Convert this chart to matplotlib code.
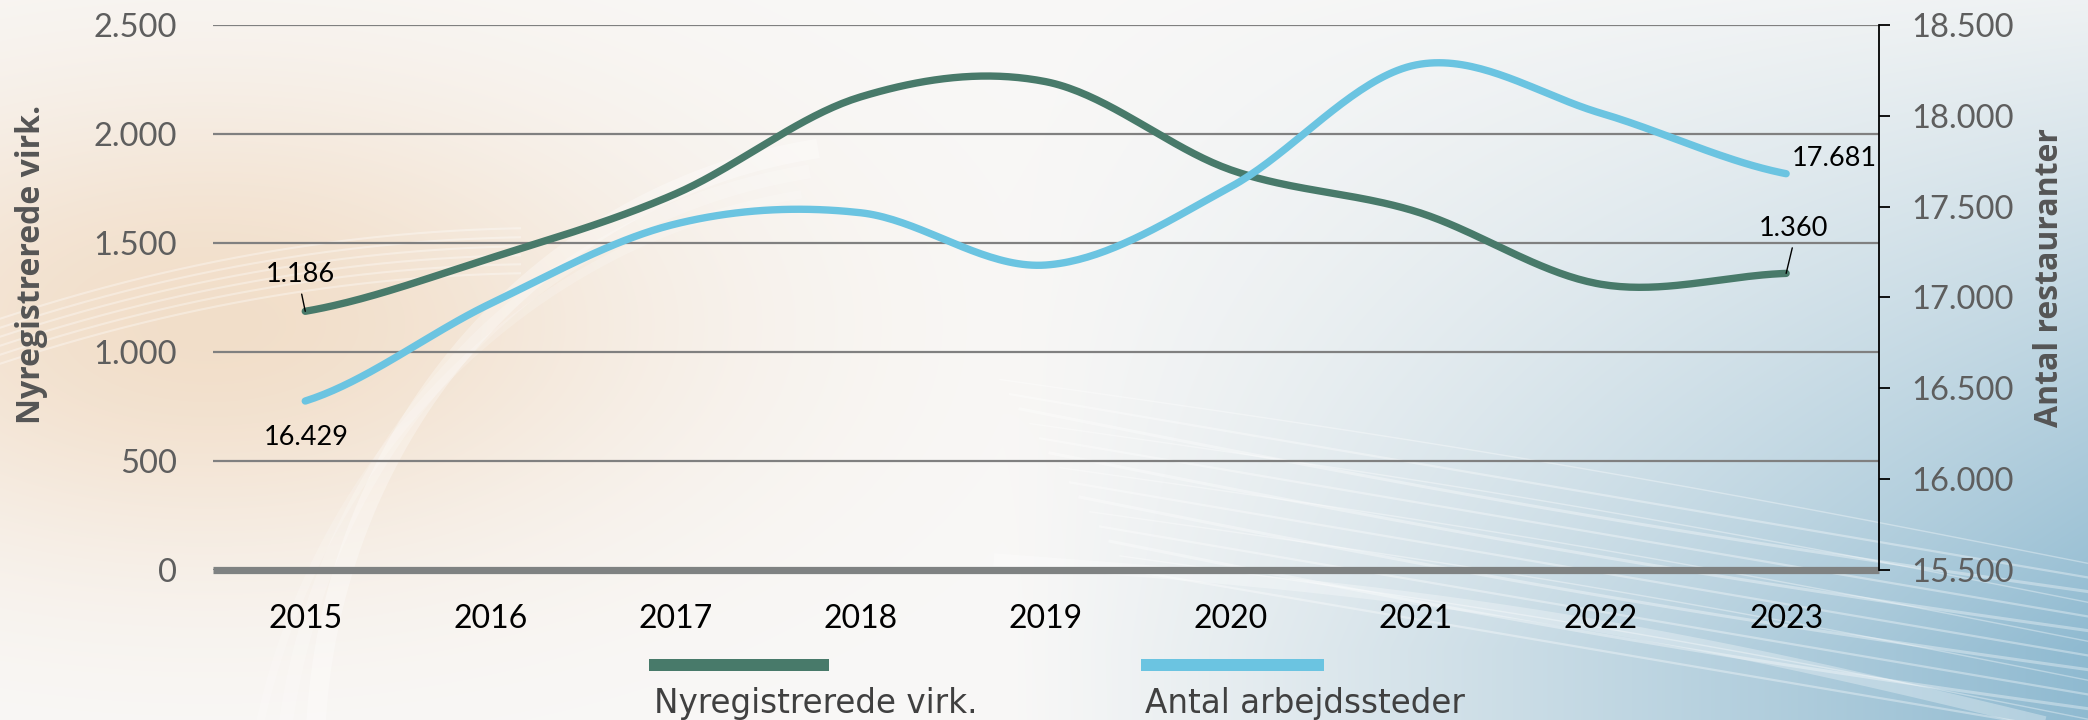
import numpy as np
import matplotlib
matplotlib.use("Agg")
import matplotlib.pyplot as plt
from matplotlib.patches import Rectangle

# ---------------- data ----------------
years = ["2015", "2016", "2017", "2018", "2019", "2020", "2021", "2022", "2023"]
nyregistrerede = [1186, 1430, 1725, 2170, 2240, 1835, 1644, 1310, 1360]
arbejdssteder = [16429, 16965, 17404, 17466, 17178, 17609, 18280, 18014, 17681]
left_ticks = [0, 500, 1000, 1500, 2000, 2500]
left_labels = ["0", "500", "1.000", "1.500", "2.000", "2.500"]
right_ticks = [15500, 16000, 16500, 17000, 17500, 18000, 18500]
right_labels = ["15.500", "16.000", "16.500", "17.000", "17.500", "18.000", "18.500"]
series_names = ["Nyregistrerede virk.", "Antal arbejdssteder"]
left_axis_title = "Nyregistrerede virk."
right_axis_title = "Antal restauranter"

GREEN = "#487a6a"
BLUE = "#6bc4e1"
W, H = 2088, 720


def smooth(values, k=40):
    """Cubic Hermite (Catmull-Rom style) curve through the given points."""
    p = np.asarray(values, float)
    n = len(p)
    x = np.arange(n, dtype=float)
    m = np.empty(n)
    m[1:-1] = (p[2:] - p[:-2]) / 2.0
    m[0] = (p[1] - p[0]) * 0.6
    m[-1] = (p[-1] - p[-2]) * 0.6
    xs, ys = [], []
    for i in range(n - 1):
        t = np.linspace(0, 1, k, endpoint=(i == n - 2))
        h00 = 2 * t**3 - 3 * t**2 + 1
        h10 = t**3 - 2 * t**2 + t
        h01 = -2 * t**3 + 3 * t**2
        h11 = t**3 - t**2
        xs.append(x[i] + t)
        ys.append(h00 * p[i] + h10 * m[i] + h01 * p[i + 1] + h11 * m[i + 1])
    return np.concatenate(xs), np.concatenate(ys)


fig = plt.figure(figsize=(W / 100, H / 100), dpi=100)

# ---------------- background ----------------
yy, xx = np.mgrid[0:H, 0:W]
X = xx / W
Y = yy / H
base = np.array([249, 248, 247]) / 255.0
peach = np.array([240, 216, 190]) / 255.0
blue = np.array([128, 177, 203]) / 255.0
pw = 0.8 * np.exp(-((X - 0.10) / 0.22) ** 2 - ((Y - 0.45) / 0.33) ** 2)
bw = np.clip((X - 0.48) * 1.7, 0, 1) ** 1.1 * np.clip(0.10 + Y * 1.0, 0, 1)
bw = np.clip(bw, 0, 0.88)
img = base[None, None, :] * (1 - pw - bw)[..., None] + peach * pw[..., None] + blue * bw[..., None]
img = np.clip(img, 0, 1)

bg = fig.add_axes([0, 0, 1, 1])
bg.imshow(img, extent=(0, W, H, 0), aspect="auto", interpolation="bilinear")
bg.set_xlim(0, W)
bg.set_ylim(H, 0)
bg.axis("off")
bg.set_zorder(-5)

# decorative white swooshes
t = np.linspace(0, 1, 200)
for k in range(14):
    x0 = 1000 + k * 10
    xsw = x0 + (W + 40 - x0) * t
    ysw = 405 + k * 13 + 0.17 * (xsw - 1150) + 25 * np.sin(t * np.pi) * (k % 3 - 1) * 0.4
    bg.plot(xsw, ysw, color="white", lw=1.0 + (k % 3) * 0.6, alpha=0.35)
bg.plot(1000 + 1100 * t, 560 + 0.16 * (1100 * t) - 30 * np.sin(t * np.pi), color="white", lw=9, alpha=0.3)
for k, a in enumerate([0.3, 0.2, 0.18]):
    th = np.linspace(np.pi * 0.55, np.pi * 1.0, 200)
    r = 650 + 40 * k
    bg.plot(900 + r * np.cos(th) * 0.9, 760 - r * np.sin(th) * 0.95 + 60 * k, color="white", lw=14 - 4 * k, alpha=a)
for k in range(6):
    xs_ = np.linspace(0, 520, 200)
    bg.plot(xs_, 300 + k * 9 - 0.18 * xs_ + 0.0003 * (xs_ - 250) ** 2, color="white", lw=1.5, alpha=0.35)

# ---------------- main axes ----------------
left = 212.7 / W
right = 1878.7 / W
bottom = 1 - 569.7 / H
top = 1 - 25.0 / H
ax = fig.add_axes([left, bottom, right - left, top - bottom])
ax.set_facecolor("none")
ax2 = ax.twinx()
ax2.set_facecolor("none")

x_idx = np.arange(len(years))
ax.set_xlim(-0.5, len(years) - 0.5)
ax.set_ylim(left_ticks[0], left_ticks[-1])
ax2.set_ylim(right_ticks[0], right_ticks[-1])

ax.set_xticks(x_idx)
ax.set_xticklabels(years, fontfamily="Lato", fontsize=23, color="black")
ax.set_yticks(left_ticks)
ax.set_yticklabels(left_labels, fontfamily="Lato", fontsize=23.5, color="#5e5e5e")
ax2.set_yticks(right_ticks)
ax2.set_yticklabels(right_labels, fontfamily="Lato", fontsize=23.5, color="#5e5e5e")

ax.tick_params(axis="x", length=0, pad=24.5)
ax.tick_params(axis="y", length=0, pad=25.5)
ax2.tick_params(axis="y", length=8, width=1.3, color="black", direction="out", pad=15.5)

for s in ax.spines.values():
    s.set_visible(False)
for name, s in ax2.spines.items():
    s.set_visible(name == "right")
ax2.spines["right"].set_color("black")
ax2.spines["right"].set_linewidth(1.3)

ax.yaxis.grid(True, color="#808080", lw=1.6)
ax.set_axisbelow(True)
ax.axhline(left_ticks[0], color="#7f8282", lw=5.2, solid_capstyle="butt", clip_on=False, zorder=2)

gx, gy = smooth(nyregistrerede)
ax.plot(gx, gy, color=GREEN, lw=5.3, solid_capstyle="round", zorder=3)
bx, by = smooth(arbejdssteder)
ax2.plot(bx, by, color=BLUE, lw=5.3, solid_capstyle="round", zorder=3)

def fmt(v):
    return f"{v:,}".replace(",", ".")

lead = dict(arrowstyle="-", color="black", lw=1.0, shrinkA=3, shrinkB=0, relpos=(0.5, 0.0))
ax.annotate(fmt(nyregistrerede[0]), xy=(0, nyregistrerede[0]), xytext=(-3.6, 20.9),
            textcoords="offset points", ha="center", va="baseline", fontsize=19.5,
            fontfamily="Lato", color="black", arrowprops=lead, zorder=5)
ax.annotate(fmt(nyregistrerede[-1]), xy=(8, nyregistrerede[-1]), xytext=(5.6, 26.9),
            textcoords="offset points", ha="center", va="baseline", fontsize=19.5,
            fontfamily="Lato", color="black", arrowprops=lead, zorder=5)
ax2.annotate(fmt(arbejdssteder[0]), xy=(0, arbejdssteder[0]), xytext=(0.5, -31.7),
             textcoords="offset points", ha="center", va="baseline", fontsize=19.5,
             fontfamily="Lato", color="black", zorder=5)
ax2.annotate(fmt(arbejdssteder[-1]), xy=(8, arbejdssteder[-1]), xytext=(4.3, 5.8),
             textcoords="offset points", ha="left", va="baseline", fontsize=19.5,
             fontfamily="Lato", color="black", zorder=5)

# axis titles
title_font = ["Open Sans", "Lato", "DejaVu Sans"]
fig.text(32 / W, 1 - 264 / H, left_axis_title, rotation=90, ha="center", va="center",
         fontsize=23, fontweight="bold", fontfamily=title_font, color="#555555")
fig.text(2049 / W, 1 - 278 / H, right_axis_title, rotation=90, ha="center", va="center",
         fontsize=23, fontweight="bold", fontfamily=title_font, color="#555555")

# legend
fig.add_artist(Rectangle((649 / W, 1 - 671 / H), 180 / W, 12 / H, transform=fig.transFigure,
                         facecolor=GREEN, edgecolor="none"))
fig.add_artist(Rectangle((1141 / W, 1 - 671 / H), 183 / W, 12 / H, transform=fig.transFigure,
                         facecolor=BLUE, edgecolor="none"))
fig.text(654 / W, 1 - 713 / H, series_names[0], ha="left", va="baseline", fontsize=23.5,
         fontfamily="DejaVu Sans", color="#404040")
fig.text(1145 / W, 1 - 713 / H, series_names[1], ha="left", va="baseline", fontsize=23.5,
         fontfamily="DejaVu Sans", color="#404040")

fig.savefig("out.png", dpi=100)
